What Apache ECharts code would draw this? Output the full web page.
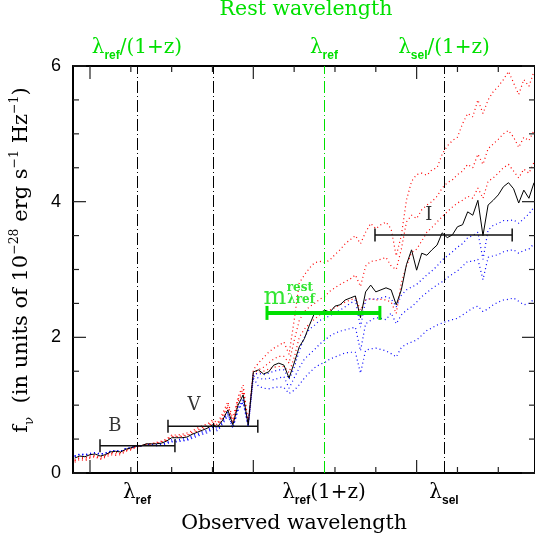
<!DOCTYPE html>
<html lang="en">
<head>
    <meta charset="utf-8">
    <title>Rest and observed wavelength</title>
    <script src="https://cdn.jsdelivr.net/npm/echarts@6/dist/echarts.min.js"></script>
    <style>
        html, body {margin: 0; padding: 0; background: #fff;}
        #chart {width: 535px; height: 544px;}
    </style>
</head>
<body>
<div id="chart"></div>
<script type="application/javascript">
    // observed wavelength grid (arbitrary units, one minor tick = 1)
    var wave = [];
    for (var i = 0; i <= 90; i++) wave.push(-0.375 + i * 0.125);

    // template spectra, f_nu in 1e-28 erg s-1 Hz-1
    var black = [0.22,0.25,0.24,0.27,0.28,0.25,0.27,0.31,0.32,0.31,0.35,0.37,0.40,0.40,0.43,0.43,0.43,0.44,0.47,0.52,0.52,0.52,0.53,0.57,0.60,0.63,0.66,0.71,0.68,0.78,0.93,0.71,1.00,1.15,0.71,
        1.49,1.52,1.46,1.49,1.59,1.62,1.59,1.40,1.62,1.86,1.98,2.18,2.36,2.36,2.40,2.37,2.46,2.48,2.55,2.58,
        2.61,2.29,2.67,2.77,2.67,2.70,2.73,2.70,2.48,2.70,3.07,3.29,2.99,3.24,3.21,3.29,3.36,3.54,3.47,3.51,
        3.63,3.66,3.85,3.80,4.02,3.50,3.95,4.02,4.10,4.22,4.28,4.19,3.98,4.17,4.05,4.28];
    var redA = [0.16,0.20,0.18,0.22,0.24,0.20,0.23,0.27,0.26,0.27,0.32,0.34,0.38,0.40,0.42,0.43,0.45,0.47,0.50,0.56,0.56,0.57,0.59,0.62,0.66,0.70,0.72,0.78,0.74,0.88,1.05,0.80,1.12,1.30,0.75,
        1.52,1.62,1.70,1.78,1.84,1.88,1.93,1.75,2.25,2.80,2.92,3.02,3.10,3.12,3.10,3.14,3.22,3.29,3.38,3.44,
        3.50,3.38,3.55,3.68,3.60,3.66,3.70,3.60,3.20,3.50,4.02,4.30,4.40,4.42,4.39,4.47,4.50,4.70,4.82,4.90,
        4.95,5.15,5.30,5.25,5.50,5.30,5.50,5.62,5.70,5.80,5.92,5.75,5.58,5.80,5.70,5.92];
    var redB = [0.18,0.22,0.20,0.23,0.25,0.21,0.25,0.29,0.28,0.29,0.33,0.35,0.39,0.40,0.42,0.43,0.44,0.46,0.49,0.54,0.54,0.55,0.56,0.60,0.63,0.67,0.70,0.75,0.71,0.84,1.00,0.76,1.08,1.24,0.73,
        1.47,1.52,1.56,1.62,1.68,1.72,1.72,1.62,1.95,2.25,2.38,2.45,2.50,2.56,2.60,2.68,2.73,2.78,2.82,2.86,
        2.92,2.75,3.05,3.12,3.13,3.15,3.18,3.05,3.00,3.30,3.70,3.80,3.75,3.88,3.95,4.00,4.08,4.20,4.28,4.32,
        4.40,4.45,4.55,4.50,4.70,4.55,4.78,4.85,4.92,5.00,5.05,4.95,4.80,4.95,4.90,5.05];
    var redC = [0.19,0.23,0.22,0.25,0.26,0.23,0.26,0.30,0.30,0.30,0.34,0.36,0.39,0.40,0.43,0.43,0.44,0.45,0.48,0.53,0.53,0.54,0.55,0.58,0.61,0.65,0.68,0.73,0.70,0.81,0.97,0.74,1.05,1.20,0.72,
        1.45,1.48,1.50,1.53,1.56,1.57,1.57,1.48,1.70,2.00,2.12,2.20,2.27,2.33,2.37,2.40,2.44,2.48,2.52,2.55,
        2.58,2.40,2.55,2.57,2.55,2.56,2.55,2.52,2.35,2.80,3.05,3.25,3.30,3.42,3.55,3.62,3.70,3.78,3.85,3.92,
        3.98,4.02,4.08,4.05,4.20,4.05,4.30,4.35,4.42,4.50,4.55,4.45,4.35,4.48,4.42,4.58];
    var blueA = [0.24,0.27,0.26,0.28,0.30,0.28,0.29,0.32,0.33,0.32,0.36,0.37,0.40,0.40,0.42,0.42,0.42,0.43,0.45,0.49,0.49,0.50,0.51,0.55,0.58,0.61,0.63,0.69,0.66,0.76,0.90,0.69,0.97,1.10,0.70,
        1.45,1.47,1.45,1.47,1.50,1.52,1.52,1.38,1.55,1.80,2.00,2.12,2.18,2.25,2.28,2.32,2.36,2.40,2.45,2.50,
        2.55,2.15,2.55,2.57,2.56,2.58,2.60,2.57,2.45,2.62,2.70,2.74,2.78,2.85,2.92,2.98,3.05,3.14,3.20,3.26,
        3.33,3.38,3.47,3.50,3.55,3.15,3.58,3.65,3.68,3.72,3.72,3.73,3.68,3.75,3.82,3.92];
    var blueB = [0.25,0.28,0.27,0.28,0.30,0.28,0.29,0.32,0.33,0.32,0.36,0.37,0.40,0.40,0.42,0.41,0.41,0.42,0.44,0.47,0.47,0.48,0.49,0.53,0.56,0.59,0.61,0.67,0.64,0.74,0.87,0.67,0.94,1.06,0.69,
        1.43,1.40,1.38,1.40,1.37,1.40,1.42,1.25,1.40,1.55,1.68,1.75,1.82,1.90,1.96,2.02,2.06,2.09,2.11,2.13,
        2.15,1.80,2.20,2.25,2.29,2.28,2.26,2.36,2.20,2.33,2.40,2.45,2.52,2.60,2.66,2.72,2.77,2.82,2.88,2.93,
        2.98,3.05,3.12,3.12,3.15,2.85,3.18,3.20,3.22,3.26,3.28,3.29,3.24,3.28,3.30,3.38];
    var blueC = [0.25,0.28,0.27,0.29,0.30,0.28,0.29,0.32,0.33,0.32,0.36,0.37,0.39,0.40,0.41,0.41,0.40,0.41,0.43,0.46,0.46,0.47,0.48,0.51,0.54,0.57,0.59,0.65,0.62,0.72,0.85,0.66,0.92,1.04,0.68,
        1.40,1.28,1.25,1.24,1.26,1.27,1.26,1.17,1.22,1.30,1.40,1.48,1.55,1.60,1.63,1.68,1.71,1.74,1.77,1.78,
        1.78,1.47,1.81,1.83,1.84,1.82,1.80,1.76,1.71,1.85,1.90,1.93,1.96,2.03,2.10,2.14,2.18,2.21,2.24,2.26,
        2.28,2.33,2.38,2.43,2.46,2.38,2.42,2.48,2.52,2.55,2.56,2.58,2.53,2.48,2.50,2.56];

    // filters: name, start, end, level, label position
    var bandNames = ['B', 'V', 'I'];
    var bandStart = [0.245, 1.91, 6.98];
    var bandEnd = [2.08, 4.11, 10.34];
    var bandLevel = [0.40, 0.69, 3.51];
    var bandLabelX = [0.61, 2.55, 8.30];
    var bandLabelY = [0.69, 1.00, 3.80];

    // rest-frame magnitude bar: start, end, level
    var mBar = [4.335, 7.10, 2.36];

    // marked wavelengths (dash-dot lines) and their labels
    var markerWaves = [1.15, 5.73, 8.67];
    var extraLine = 3.01;
    var bottomLabels = ['{l|λ}{s|ref}', '{l|λ}{s|ref}{l|(1+z)}', '{l|λ}{s|sel}'];
    var topLabels = ['{l|λ}{s|ref}{l|/(1+z)}', '{l|λ}{s|ref}', '{l|λ}{s|sel}{l|/(1+z)}'];

    // tick positions
    var majorTicks = [0, 4, 8];
    var minorTicks = [1, 2, 3, 5, 6, 7, 9, 10];
    var yMajorTicks = [0, 2, 4, 6];
    var yMinorTicks = [0.5, 1, 1.5, 2.5, 3, 3.5, 4.5, 5, 5.5];
    var xMin = -0.4164, xMax = 10.899, yMin = 0, yMax = 6;

    var green = '#00e000';
    var serif = 'DejaVu Serif';
    var plotW = 462, plotH = 407;

    function pairs(ys) {
        return ys.map(function (y, k) { return [wave[k], y]; });
    }

    function labelFor(list) {
        return function (v) {
            for (var k = 0; k < markerWaves.length; k++) {
                if (Math.abs(markerWaves[k] - v) < 1e-6) return list[k];
            }
            return '';
        };
    }

    function labelRich(color) {
        return {
            l: {fontFamily: serif, fontSize: 20, color: color, lineHeight: 28, verticalAlign: 'middle'},
            s: {fontFamily: 'Liberation Sans', fontWeight: 'bold', fontSize: 12, color: color, lineHeight: 11, verticalAlign: 'bottom'}
        };
    }

    function frameAxis(pos) {
        return {
            type: 'value', position: pos, min: xMin, max: xMax,
            splitLine: {show: false},
            axisLine: {show: true, onZero: false, lineStyle: {color: '#000', width: 2}},
            axisTick: {show: false},
            axisLabel: {show: false}
        };
    }

    function labelAxis(pos, list, color) {
        return {
            type: 'value', position: pos, min: xMin, max: xMax,
            splitLine: {show: false},
            axisLine: {show: false, onZero: false},
            axisTick: {show: false},
            axisLabel: {show: true, customValues: markerWaves, formatter: labelFor(list),
                margin: pos === 'top' ? 4 : 6, rich: labelRich(color)}
        };
    }

    function yAxisOf(pos, showLabel) {
        return {
            type: 'value', position: pos, min: yMin, max: yMax, interval: 2,
            splitLine: {show: false},
            axisLine: {show: true, onZero: false, lineStyle: {color: '#000', width: 2}},
            axisTick: {show: false},
            axisLabel: {show: showLabel, margin: 12, fontFamily: 'Liberation Sans', fontSize: 18, color: '#000'}
        };
    }

    function dotted(ys, color) {
        return {
            type: 'line', data: pairs(ys), showSymbol: false, silent: true,
            lineStyle: {color: color, width: 1.2, type: [1, 3]}, z: 2
        };
    }

    var dashDot = [12, 3, 1, 3];
    var series = [
        dotted(redA, '#ff0000'), dotted(redB, '#ff0000'), dotted(redC, '#ff0000'),
        dotted(blueA, '#0000ff'), dotted(blueB, '#0000ff'), dotted(blueC, '#0000ff'),
        {
            type: 'line', data: pairs(black), showSymbol: false, silent: true, z: 3,
            lineStyle: {color: '#000', width: 1},
            markLine: {
                silent: true, symbol: 'none', label: {show: false}, animation: false,
                data: [
                    {xAxis: markerWaves[0], lineStyle: {color: '#000', width: 1, type: dashDot}},
                    {xAxis: extraLine, lineStyle: {color: '#000', width: 1, type: dashDot}},
                    {xAxis: markerWaves[1], lineStyle: {color: green, width: 1, type: dashDot}},
                    {xAxis: markerWaves[2], lineStyle: {color: '#000', width: 1, type: dashDot}}
                ]
            }
        }
    ];

    // inward tick marks on all four sides, each a short two-point line (lengths in pixels)
    var unitX = plotW / (xMax - xMin), unitY = plotH / (yMax - yMin);
    function tickSeries(p, q) {
        series.push({
            type: 'line', data: [p, q], showSymbol: false, symbol: 'none', silent: true, z: 7,
            clip: false, lineStyle: {color: '#222', width: 1.2, type: 'solid'}
        });
    }
    function xTicks(vals, len) {
        vals.forEach(function (v) {
            tickSeries([v, yMin], [v, yMin + len / unitY]);
            tickSeries([v, yMax], [v, yMax - len / unitY]);
        });
    }
    function yTicks(vals, len) {
        vals.forEach(function (v) {
            tickSeries([xMin, v], [xMin + len / unitX, v]);
            tickSeries([xMax, v], [xMax - len / unitX, v]);
        });
    }
    xTicks(majorTicks, 13);
    xTicks(minorTicks, 6);
    yTicks(yMajorTicks, 13);
    yTicks(yMinorTicks, 6);

    bandNames.forEach(function (b, k) {
        series.push({
            type: 'line', z: 4, silent: true,
            data: [[bandStart[k], bandLevel[k]], [bandEnd[k], bandLevel[k]]],
            symbol: 'rect', symbolSize: [1.5, 13], itemStyle: {color: '#111'},
            lineStyle: {color: '#111', width: 1.5}
        });
    });

    series.push({
        type: 'line', z: 5, silent: true,
        data: [[mBar[0], mBar[2]], [mBar[1], mBar[2]]],
        symbol: 'rect', symbolSize: [3, 14], itemStyle: {color: green},
        lineStyle: {color: green, width: 4}
    });

    var notes = bandNames.map(function (b, k) {
        return {value: [bandLabelX[k], bandLabelY[k]],
            label: {formatter: b, fontFamily: serif, fontSize: 18, color: '#000'}};
    });
    notes.push({value: [4.53, 2.59], label: {formatter: 'm', fontFamily: serif, fontSize: 24, color: green}});
    notes.push({value: [5.14, 2.73], label: {formatter: 'rest', fontFamily: serif, fontWeight: 'bold', fontSize: 12, color: green}});
    notes.push({value: [5.17, 2.55], label: {formatter: 'λref', fontFamily: serif, fontWeight: 'bold', fontSize: 12, color: green}});

    series.push({
        type: 'scatter', z: 6, silent: true, symbolSize: 0, data: notes,
        label: {show: true, position: 'inside'}
    });

    var chart = echarts.init(document.getElementById('chart'));
    chart.setOption({
        animation: false,
        grid: {left: 73, right: 0, top: 66, bottom: 71, outerBoundsMode: 'none'},
        xAxis: [
            frameAxis('bottom'),
            frameAxis('top'),
            labelAxis('bottom', bottomLabels, '#000'),
            labelAxis('top', topLabels, green)
        ],
        yAxis: [yAxisOf('left', true), yAxisOf('right', false)],
        // axis titles
        graphic: [
            {type: 'text', x: 306, y: 10, silent: true,
                style: {text: 'Rest wavelength', fontFamily: serif, fontSize: 20.5, fill: green, align: 'center', verticalAlign: 'middle'}},
            {type: 'text', x: 294, y: 524, silent: true,
                style: {text: 'Observed wavelength', fontFamily: serif, fontSize: 20.5, fill: '#000', align: 'center', verticalAlign: 'middle'}},
            {type: 'text', x: 22, y: 260, rotation: Math.PI / 2, silent: true,
                style: {
                    text: '{t|f}{sub|ν}{t|  (in units of 10}{sup|−28}{t| erg s}{sup|−1}{t| Hz}{sup|−1}{t|)}',
                    align: 'center', verticalAlign: 'middle',
                    rich: {
                        t: {fontFamily: serif, fontSize: 21, fill: '#000', lineHeight: 28, verticalAlign: 'middle'},
                        sup: {fontFamily: serif, fontSize: 12.5, fill: '#000', lineHeight: 12, verticalAlign: 'top'},
                        sub: {fontFamily: serif, fontSize: 13.5, fill: '#000', lineHeight: 11, verticalAlign: 'bottom'}
                    }
                }}
        ],
        series: series
    });
</script>
</body>
</html>
